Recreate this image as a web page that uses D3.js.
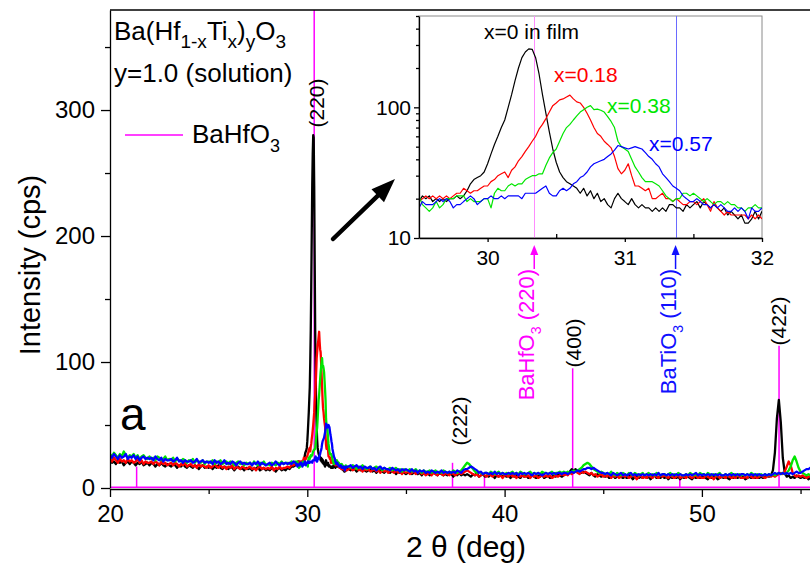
<!DOCTYPE html>
<html>
<head>
<meta charset="utf-8">
<script src="https://cdn.jsdelivr.net/npm/d3@7/dist/d3.min.js"></script>
<style>
  html, body { margin: 0; padding: 0; background: #fff; }
  svg { display: block; font-family: "Liberation Sans", Arial, Helvetica, sans-serif; }
</style>
</head>
<body>
<svg id="chart" width="810" height="564"></svg>
<script>
// ---------------- data ----------------
const seriesNames  = ["x=0 in film", "x=0.18", "x=0.38", "x=0.57"];

// 2θ = 20.0 … 29.4, step 0.1
const blackLow = [22,20,21,19,22,20,21,18,20,21, 19,21,20,18,20,19,21,18,19,20, 18,20,19,17,19,18,20,18,17,19,
  18,17,19,18,16,18,17,19,17,16, 18,17,16,18,17,15,17,18,16,17, 16,17,15,17,16,18,16,15,17,16,
  15,17,16,14,16,17,15,16,14,16, 15,16,14,16,15,17,14,15,16,14, 15,14,16,15,13,15,16,14,15,14, 16,15,17,17,18];
const redLow = [23,21,24,22,20,23,21,22,20,23, 21,22,20,21,23,20,22,19,21,20, 20,21,19,21,20,18,21,19,20,18,
  19,20,18,20,19,17,19,18,20,17, 18,19,17,18,16,19,17,18,17,16, 18,16,17,19,17,16,18,16,17,15,
  17,16,18,15,17,16,15,17,16,15, 16,17,15,16,14,16,17,15,16,15, 16,15,17,14,16,15,17,15,16,16, 17,16,18,18,19];
const greenLow = [27,25,28,26,24,27,25,29,26,24, 26,25,27,24,26,23,25,26,24,23, 25,23,24,22,25,24,22,23,25,22,
  23,22,24,21,23,22,21,23,22,20, 22,21,23,20,22,21,20,22,19,21, 21,20,22,19,21,20,22,19,20,21,
  19,21,20,18,20,21,19,20,18,20, 19,20,18,21,19,18,20,19,21,18, 19,18,20,19,18,20,19,21,19,20, 20,19,21,20,21];
const blueLow = [26,24,27,25,23,26,24,25,27,23, 25,24,26,23,25,22,24,25,23,24, 23,24,22,25,23,22,24,21,23,22,
  22,23,21,22,24,21,22,20,22,21, 21,22,20,21,23,20,21,22,20,21, 20,21,19,22,20,21,19,20,22,19,
  20,19,21,20,18,20,21,19,20,19, 19,20,18,20,19,21,18,20,19,18, 19,20,18,19,21,19,18,20,19,20, 19,20,19,21,20];

// 2θ = 29.500 … 32.000, step 0.025 (shown in the log-scale inset)
const blackZoom = [19,21,20,21,19,20,19,20,19,20, 20,21,20,21,23,26,28,29,30,32, 37,44,52,60,70,80,100,125,160,200,
  240,265,280,278,240,180,125,90,65,48, 38,32,29,27,26,25,24,22,24,21, 23,20,22,19,20,18,17,20,22,20,
  19,18,20,18,17,18,17,17,16,17, 16,17,16,18,18,17,17,16,18,17, 18,19,17,19,18,17,18,17,16,17,
  15,16,15,14,15,13,13,14,16,14, 16];
const redZoom = [19,20,21,20,21,20,21,20,21,20, 21,22,22,24,23,22,23,23,24,25, 25,27,28,30,31,32,29,33,35,39,
  42,46,50,55,60,68,74,82,92,103, 108,114,116,120,124,116,110,108,100,90, 80,70,63,60,55,52,49,42,34,31,
  33,37,30,25,25,24,23,24,20,20, 21,22,20,20,19,20,19,18,18,19, 19,18,19,20,18,16,19,17,16,15,
  16,15,15,15,15,15,14,15,14,15, 14];
const greenZoom = [21,18,17,16,17,19,17,18,20,20, 20,21,21,21,19,20,19,19,19,20, 20,17,22,24,23,23,25,26,25,26,
  26,28,29,30,30,31,31,36,41,45, 48,55,63,70,74,80,86,92,96,100, 103,96,97,95,92,85,78,70,55,50,
  48,46,40,35,32,29,27,27,27,26, 25,23,21,20,19,20,20,22,22,21, 22,21,20,19,20,19,18,19,19,18,
  19,18,18,17,17,16,17,17,18,17, 17];
const blueZoom = [17,19,18,18,18,19,20,19,20,19, 17,18,18,19,20,21,20,18,19,20, 20,21,20,20,21,20,21,21,21,21,
  20,22,22,22,22,23,24,25,22,21, 21,23,24,23,24,26,27,29,30,32, 35,37,38,39,40,42,44,47,51,50,
  49,48,49,50,49,48,45,42,40,37, 35,31,29,27,25,24,23,21,20,19, 19,20,19,18,18,17,18,17,18,17,
  16,16,17,16,17,16,14,17,16,16, 17];

// 2θ = 32.1 … 55.8, step 0.1
const blackHigh = [15,14,16,15,13,15,14,16,14,13, 14,15,13,14,12,14,15,13,12,14, 13,12,14,13,11,13,12,14,12,11,
  12,13,11,12,14,11,12,10,12,11, 12,10,11,13,11,10,12,11,10,11, 10,12,11,9,11,10,12,10,11,10,
  11,10,9,11,10,12,9,10,11,9, 10,9,11,10,8,10,9,11,9,10, 9,10,8,10,9,11,9,8,10,9,
  10,8,9,10,9,8,10,9,11,8, 9,10,8,9,10,9,11,10,9,10, 11,12,13,15,14,15,13,14,12,13,
  12,11,10,12,10,9,11,10,9,10, 9,10,8,9,10,8,9,11,9,8, 9,8,10,9,7,9,10,8,9,8,
  10,8,9,7,9,10,8,9,8,10, 8,9,7,9,8,10,8,9,7,9, 8,10,9,8,7,9,8,10,8,9,
  9,8,7,9,8,10,9,7,8,9, 8,9,8,7,9,8,10,8,9,8, 9,7,8,9,8,10,8,9,8,9,
  8,9,10,9,10,14,28,55,70,52, 24,12,9,10,8,9,8,10,9,8, 9,8,9,7,8,9,8,9];
const redHigh = [15,16,14,15,16,14,15,13,15,14, 15,13,14,15,13,14,12,14,13,14, 12,14,13,12,14,12,13,11,13,12,
  13,11,12,13,11,12,13,11,12,10, 11,12,10,12,11,10,12,11,10,12, 11,10,12,11,10,11,12,11,12,13,
  14,13,12,11,10,11,9,10,11,10, 9,11,10,9,11,10,9,10,8,10, 10,9,11,9,10,8,10,9,10,9,
  9,10,8,10,9,10,8,9,10,9, 10,9,10,8,9,10,9,10,11,10, 11,10,12,11,12,13,12,11,13,12,
  13,12,11,12,10,11,9,10,11,9, 10,9,11,8,10,9,10,8,9,10, 9,10,8,9,10,9,7,9,10,8,
  9,8,10,9,8,10,9,8,10,9, 10,9,8,10,9,8,9,10,8,9, 9,8,10,9,8,9,10,8,9,8,
  8,10,9,8,9,7,9,10,8,9, 9,8,10,9,8,9,8,10,9,8, 8,9,8,10,9,8,9,8,9,10,
  9,8,9,10,9,10,9,10,11,12, 11,13,17,21,18,12,10,9,10,9, 10,9,8,9,10,9,8,9];
const greenHigh = [17,16,18,17,15,17,16,18,16,15, 16,17,15,16,17,15,16,14,16,15, 15,16,14,15,16,14,15,13,15,14,
  14,15,13,14,15,13,14,12,14,13, 13,14,12,13,14,12,13,12,14,13, 12,13,12,14,13,12,13,14,16,18,
  20,19,17,15,13,12,13,12,11,12, 12,11,13,12,11,12,13,11,12,11, 12,11,12,13,11,12,11,13,12,11,
  11,12,13,11,12,11,12,11,13,12, 12,11,12,13,11,12,12,13,12,13, 12,13,12,13,14,13,14,15,16,18,
  19,20,19,17,15,14,13,12,13,12, 11,12,11,13,11,10,12,11,10,12, 11,10,12,11,10,12,11,10,11,12,
  10,11,12,10,11,10,12,11,10,11, 11,10,11,12,10,11,10,12,11,10, 10,11,10,12,11,10,11,10,12,11,
  11,10,12,11,10,11,10,11,12,10, 10,11,10,11,12,10,11,10,11,10, 11,10,11,10,12,11,10,11,10,11,
  10,11,10,11,10,11,10,11,12,11, 12,11,12,14,17,22,25,21,16,13, 12,11,10,11,10,11,10,11];
const blueHigh = [17,18,16,17,18,16,17,15,17,16, 16,17,15,16,14,16,17,15,16,15, 15,14,16,15,14,15,13,15,14,15,
  14,13,15,13,14,12,14,13,14,12, 13,12,14,13,12,13,12,14,12,13, 12,13,12,13,12,14,13,12,14,15,
  15,16,17,16,15,14,12,13,11,12, 12,11,12,11,13,11,12,11,12,11, 11,12,11,12,11,12,10,12,11,12,
  11,12,11,10,12,11,12,11,10,11, 12,11,12,11,12,11,12,12,11,12, 12,11,12,13,12,13,14,13,14,15,
  15,16,16,15,16,15,14,13,12,12, 11,12,11,10,12,11,10,11,12,10, 11,10,11,12,10,11,10,11,10,11,
  10,11,10,11,10,11,10,12,10,11, 11,10,11,10,11,10,11,10,11,10, 10,11,10,11,10,11,12,10,11,10,
  11,10,11,10,11,10,11,10,11,10, 10,11,10,11,10,11,10,11,10,11, 11,10,11,10,11,10,11,10,11,10,
  10,11,10,11,10,11,12,11,12,11, 12,11,12,11,12,11,12,13,12,12, 13,14,15,15,16,15,16,16];

// BaHfO3 reference pattern (stick positions and relative heights)
const refAngles  = [21.35, 30.35, 37.36, 38.98, 43.45, 48.88, 53.91];
const refHeights = [17, 400, 20, 9, 95, 9, 113];

// reflection labels
const peakLabels = ["(220)", "(222)", "(400)", "(422)"];

// reference lines drawn in the inset
const insetRefAngles = [30.34, 31.37];

// axis ticks
const xTicks = [20, 30, 40, 50];
const xMinor = [25, 35, 45, 55];
const yTicks = [0, 100, 200, 300];
const yMinor = [50, 150, 250, 350];
const insetXTicks = [30, 31, 32];
const insetXMinor = [30.5, 31.5];
const insetYTicks = [10, 100];
const insetYMinor = [20, 30, 40, 50, 60, 70, 80, 90, 200, 300, 400, 500];

// ---------------- setup ----------------
const colors = ["#000000", "#ff0000", "#00e600", "#0000ff"];
const magenta = "#ff00ff";
const FONT = '"Liberation Sans", Arial, Helvetica, sans-serif';

const lowAngles  = d3.range(blackLow.length).map(i => 20 + i * 0.1);
const zoomAngles = d3.range(blackZoom.length).map(i => 29.5 + i * 0.025);
const highAngles = d3.range(blackHigh.length).map(i => 32.1 + i * 0.1);

const lowSets  = [blackLow, redLow, greenLow, blueLow];
const zoomSets = [blackZoom, redZoom, greenZoom, blueZoom];
const highSets = [blackHigh, redHigh, greenHigh, blueHigh];

const zip = (xs, ys) => xs.map((a, i) => [a, ys[i]]);
const mainSeries = seriesNames.map((name, k) => ({
  name, color: colors[k],
  points: zip(lowAngles, lowSets[k]).concat(zip(zoomAngles, zoomSets[k]), zip(highAngles, highSets[k]))
}));
const insetSeries = seriesNames.map((name, k) => ({
  name, color: colors[k], points: zip(zoomAngles, zoomSets[k])
}));

const svg = d3.select("#chart");

// main plot scales
const x = d3.scaleLinear().domain([20, 60]).range([110, 110 + 40 * 19.73]);
const y = d3.scaleLinear().domain([0, 379.4]).range([488, 10]);

svg.append("defs").append("clipPath").attr("id", "plotClip")
  .append("rect").attr("x", 110).attr("y", 10).attr("width", 700).attr("height", 478);

const plot = svg.append("g").attr("clip-path", "url(#plotClip)");

// BaHfO3 reference sticks
plot.selectAll("line.stick").data(refAngles).join("line")
  .attr("class", "stick")
  .attr("x1", d => x(d)).attr("x2", d => x(d))
  .attr("y1", y(0)).attr("y2", (d, i) => y(refHeights[i]))
  .attr("stroke", magenta).attr("stroke-width", 1.5);

// diffraction patterns
const mainLine = d3.line().x(d => x(d[0])).y(d => y(d[1]));
plot.selectAll("path.series").data(mainSeries).join("path")
  .attr("class", "series")
  .attr("d", d => mainLine(d.points))
  .attr("fill", "none").attr("stroke", d => d.color)
  .attr("stroke-width", 2.3).attr("stroke-linejoin", "round");

// reference-pattern baseline
plot.append("line")
  .attr("x1", x(20)).attr("x2", x(60)).attr("y1", y(0) - 0.5).attr("y2", y(0) - 0.5)
  .attr("stroke", magenta).attr("stroke-width", 2.2);

// axes
const styleAxis = (g, size) => {
  g.attr("font-family", FONT).attr("font-size", size);
  g.selectAll("path.domain").attr("stroke", "#000").attr("stroke-width", 1.3);
  g.selectAll(".tick line").attr("stroke", "#000").attr("stroke-width", 1.3);
  g.selectAll(".tick text").attr("fill", "#000");
};

svg.append("g").attr("transform", `translate(0,${y(0) + 1})`)
  .call(d3.axisBottom(x).tickValues(xTicks).tickSize(8).tickSizeOuter(0).tickPadding(8).tickFormat(d3.format("d")))
  .call(g => styleAxis(g, 24));
svg.append("g").attr("transform", `translate(0,${y(0) + 1})`)
  .call(d3.axisBottom(x).tickValues(xMinor).tickSize(5).tickSizeOuter(0).tickFormat(""))
  .call(g => { styleAxis(g, 24); g.select("path.domain").remove(); });

svg.append("g").attr("transform", `translate(${x(20)},0)`)
  .call(d3.axisLeft(y).tickValues(yTicks).tickSize(9).tickSizeOuter(0).tickPadding(6).tickFormat(d3.format("d")))
  .call(g => styleAxis(g, 24));
svg.append("g").attr("transform", `translate(${x(20)},0)`)
  .call(d3.axisLeft(y).tickValues(yMinor).tickSize(5).tickSizeOuter(0).tickFormat(""))
  .call(g => { styleAxis(g, 24); g.select("path.domain").remove(); });

// top frame line
svg.append("line").attr("x1", x(20)).attr("x2", 810).attr("y1", y(379.4)).attr("y2", y(379.4))
  .attr("stroke", "#000").attr("stroke-width", 1.3);

// axis titles
svg.append("text")
  .attr("transform", "translate(40,265) rotate(-90)")
  .attr("text-anchor", "middle").attr("font-size", 29).attr("font-family", FONT)
  .text("Intensity (cps)");
svg.append("text")
  .attr("x", 466).attr("y", 557).attr("text-anchor", "middle")
  .attr("font-size", 30).attr("font-family", FONT).attr("xml:space", "preserve")
  .text("2 \u03b8 (deg)");

// reflection labels (rotated)
const labelPlace = [
  { a: 30.35, dx: 2, cy: 103 },
  { a: 37.36, dx: 7, cy: 421 },
  { a: 43.45, dx: 1, cy: 343 },
  { a: 53.91, dx: 0, cy: 321 }
];
peakLabels.forEach((lab, i) => {
  const p = labelPlace[i];
  svg.append("text")
    .attr("transform", `translate(${x(p.a) + p.dx},${p.cy}) rotate(-90)`)
    .attr("text-anchor", "middle").attr("dy", "0.35em")
    .attr("font-size", 21).attr("font-family", FONT).attr("fill", "#000")
    .text(lab);
});

// text runs with subscripts: [text, 1 = drop to subscript, -1 = back to baseline, 0 = unchanged]
const subText = (parent, parts, bigSize, smallSize, shift) => {
  parts.forEach(([t, sub]) => {
    parent.append("tspan")
      .attr("font-size", sub === 1 ? smallSize : bigSize)
      .attr("dy", sub === 1 ? shift : (sub === -1 ? -shift : 0))
      .text(t);
  });
};

// legend / title block
const title = svg.append("text").attr("x", 114).attr("y", 40).attr("font-family", FONT).attr("fill", "#000");
subText(title, [["Ba(Hf", 0], ["1-x", 1], ["Ti", -1], ["x", 1], [")", -1], ["y", 1], ["O", -1], ["3", 1]], 26, 19, 8);
svg.append("text").attr("x", 114).attr("y", 82).attr("font-family", FONT).attr("font-size", 26)
  .text("y=1.0 (solution)");
svg.append("line").attr("x1", 125).attr("x2", 183).attr("y1", 135).attr("y2", 135)
  .attr("stroke", magenta).attr("stroke-width", 1.5);
const legLab = svg.append("text").attr("x", 192).attr("y", 143).attr("font-family", FONT).attr("fill", "#000");
subText(legLab, [["BaHfO", 0], ["3", 1]], 26, 18, 9);

// panel letter
svg.append("text").attr("x", 120).attr("y", 430).attr("font-size", 46).attr("font-family", FONT).text("a");

// big pointer towards the inset
(() => {
  const sx = 333, sy = 239, tx = 395, ty = 179;
  const len = Math.hypot(tx - sx, ty - sy), ux = (tx - sx) / len, uy = (ty - sy) / len;
  const hl = 24, hw = 9;
  const bx = tx - ux * hl, by = ty - uy * hl;
  svg.append("line").attr("x1", sx).attr("y1", sy).attr("x2", bx + ux * 2).attr("y2", by + uy * 2)
    .attr("stroke", "#000").attr("stroke-width", 4.5).attr("stroke-linecap", "round");
  svg.append("polygon")
    .attr("points", [[tx, ty], [bx - uy * hw, by + ux * hw], [bx + uy * hw, by - ux * hw]].map(p => p.join(",")).join(" "))
    .attr("fill", "#000");
})();

// ---------------- inset ----------------
const xi = d3.scaleLinear().domain([29.5, 32]).range([419, 762]);
const yi = d3.scaleLog().domain([10, 500]).range([238, 16]);

const inset = svg.append("g");
inset.append("rect").attr("x", 419).attr("y", 16).attr("width", 343).attr("height", 222)
  .attr("fill", "#fff").attr("stroke", "#8a8a8a").attr("stroke-width", 1);

svg.append("defs").append("clipPath").attr("id", "insetClip")
  .append("rect").attr("x", 419).attr("y", 16).attr("width", 343).attr("height", 222);
const insetPlot = inset.append("g").attr("clip-path", "url(#insetClip)");

const refColors = ["#ff8cff", "#6a6aff"];
insetPlot.selectAll("line.iref").data(insetRefAngles).join("line")
  .attr("class", "iref")
  .attr("x1", d => Math.round(xi(d)) + 0.5).attr("x2", d => Math.round(xi(d)) + 0.5).attr("y1", 16).attr("y2", 238)
  .attr("stroke", (d, i) => refColors[i]).attr("stroke-width", 1);

const insetLine = d3.line().x(d => xi(d[0])).y(d => yi(d[1]));
insetPlot.selectAll("path.iseries").data(insetSeries).join("path")
  .attr("class", "iseries")
  .attr("d", d => insetLine(d.points))
  .attr("fill", "none").attr("stroke", d => d.color).attr("stroke-width", 1.2)
  .attr("stroke-linejoin", "round");

// inset axes
inset.append("g").attr("transform", "translate(0,238)")
  .call(d3.axisBottom(xi).tickValues(insetXTicks).tickSize(4).tickSizeOuter(0).tickPadding(8).tickFormat(d3.format("d")))
  .call(g => styleAxis(g, 21));
inset.append("g").attr("transform", "translate(0,238)")
  .call(d3.axisTop(xi).tickValues(insetXMinor).tickSize(4).tickSizeOuter(0).tickFormat(""))
  .call(g => { styleAxis(g, 21); g.select("path.domain").remove(); });
inset.append("g").attr("transform", "translate(419,0)")
  .call(d3.axisLeft(yi).tickValues(insetYTicks).tickSize(5).tickSizeOuter(0).tickPadding(3).tickFormat(d3.format("d")))
  .call(g => styleAxis(g, 21));
inset.append("g").attr("transform", "translate(419,0)")
  .call(d3.axisLeft(yi).tickValues(insetYMinor).tickSize(3).tickSizeOuter(0).tickFormat(""))
  .call(g => { styleAxis(g, 21); g.select("path.domain").remove(); });

// inset series labels
const insetLabelPlace = [[484, 39], [554, 82], [607, 113], [649, 151]];
seriesNames.forEach((name, k) => {
  inset.append("text")
    .attr("x", insetLabelPlace[k][0]).attr("y", insetLabelPlace[k][1])
    .attr("font-size", 21).attr("font-family", FONT).attr("fill", colors[k])
    .text(name);
});

// phase markers under the inset
const phaseMarks = [
  { a: insetRefAngles[0], color: magenta, parts: [["BaHfO", 0], ["3", 1], [" (220)", -1]] },
  { a: insetRefAngles[1], color: "#1010ff", parts: [["BaTiO", 0], ["3", 1], [" (110)", -1]] }
];
phaseMarks.forEach(m => {
  const cx = xi(m.a);
  svg.append("line").attr("x1", cx).attr("x2", cx).attr("y1", 254).attr("y2", 269)
    .attr("stroke", m.color).attr("stroke-width", 1.5);
  svg.append("polygon")
    .attr("points", `${cx},245 ${cx - 4},255 ${cx + 4},255`).attr("fill", m.color);
  const t = svg.append("text")
    .attr("transform", `translate(${cx},269) rotate(-90)`)
    .attr("text-anchor", "end").attr("dy", "0.36em")
    .attr("font-family", FONT).attr("fill", m.color).attr("xml:space", "preserve");
  subText(t, m.parts, 22, 14, 7);
});
</script>
</body>
</html>
